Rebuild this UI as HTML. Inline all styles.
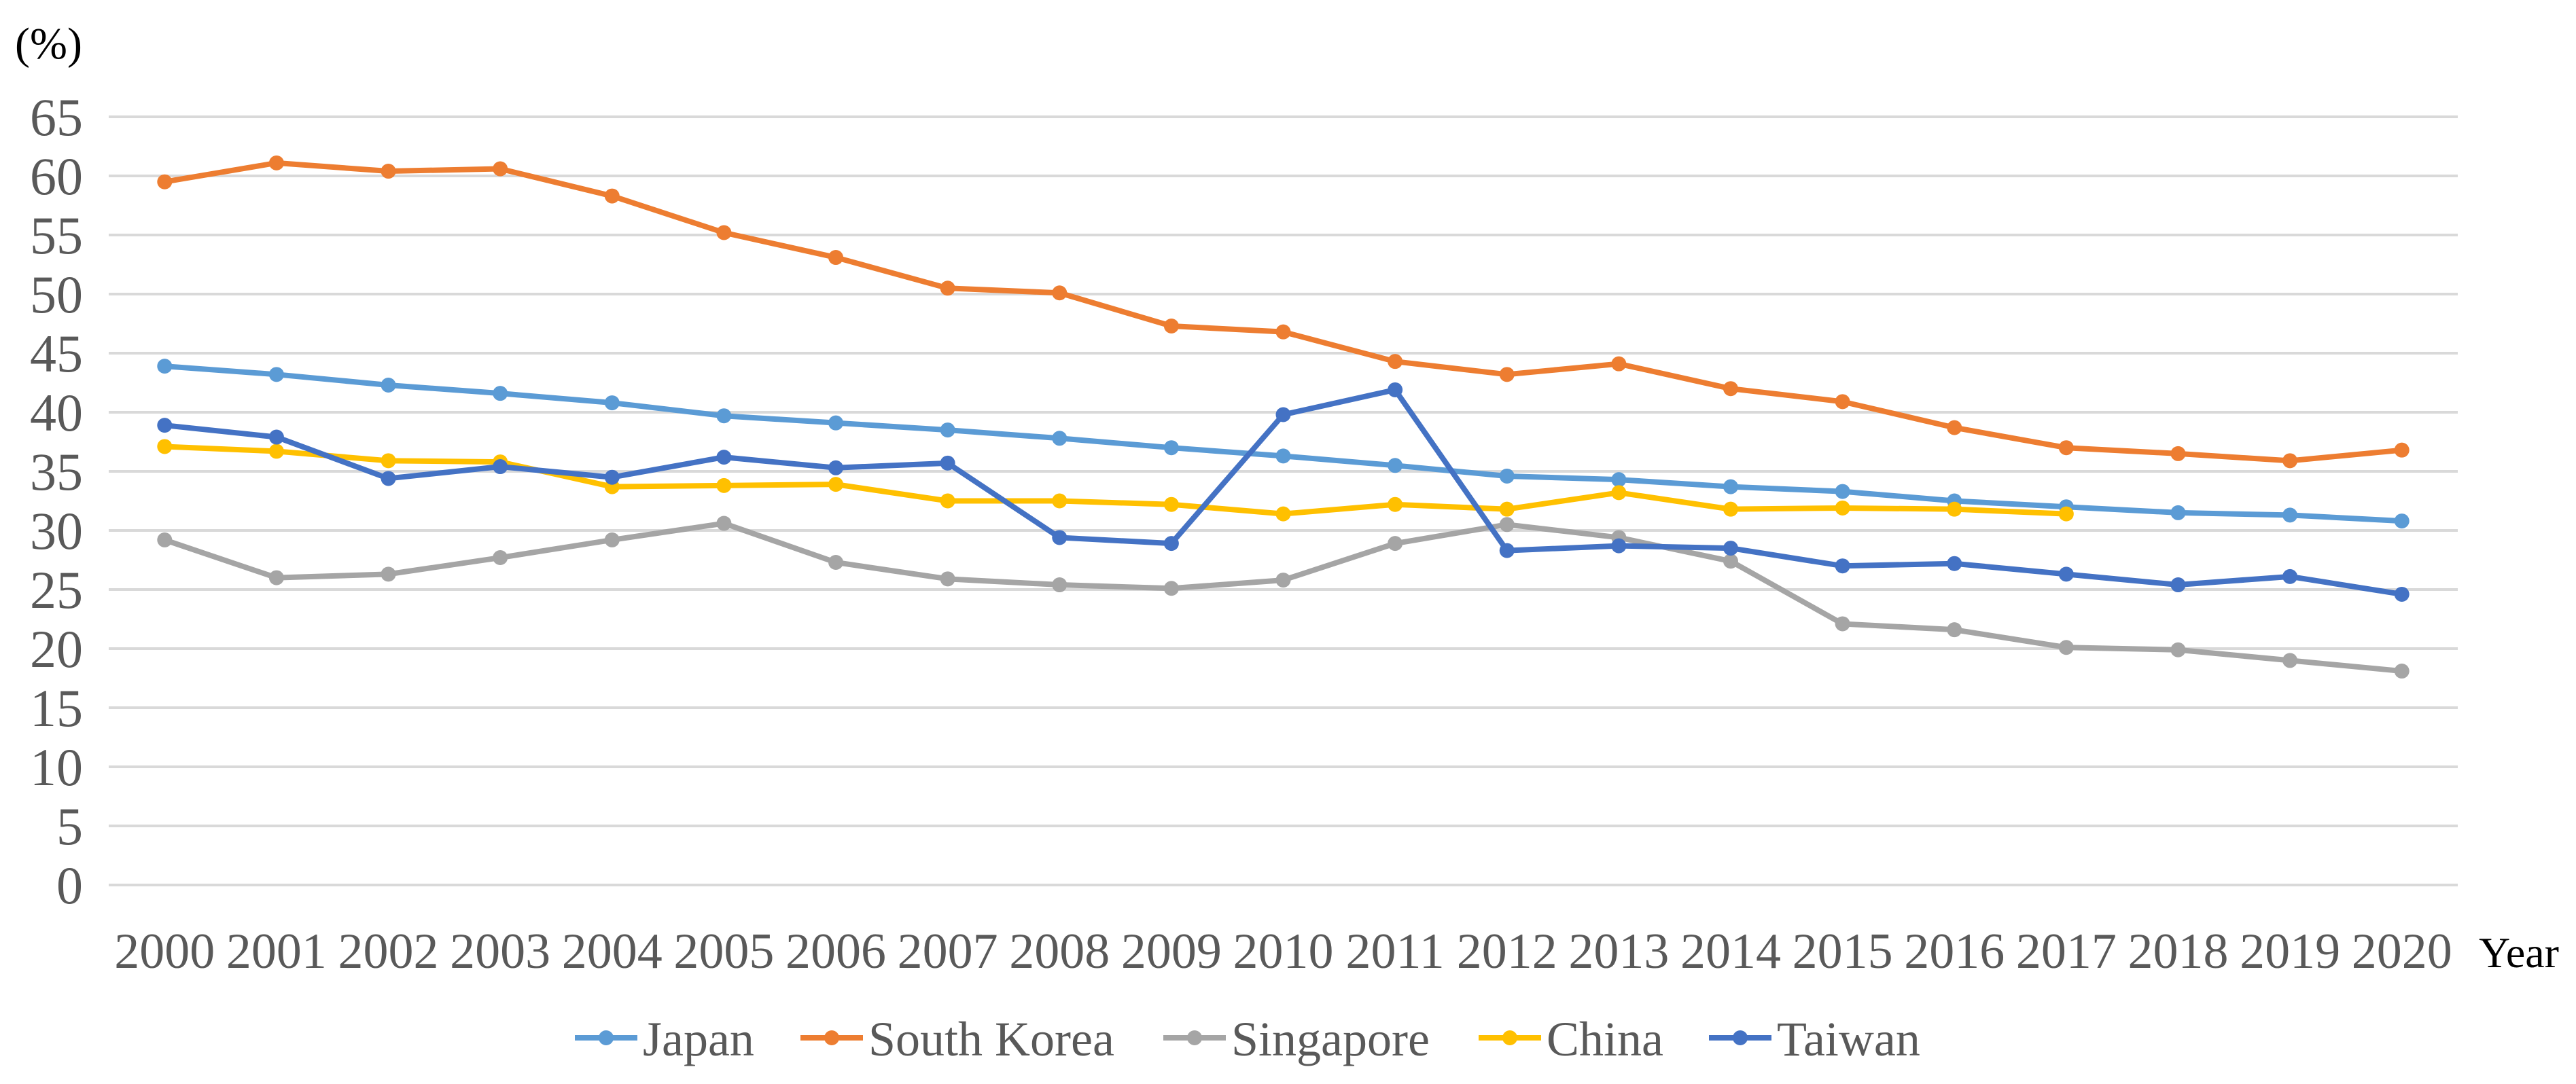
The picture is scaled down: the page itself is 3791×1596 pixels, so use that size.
<!DOCTYPE html>
<html><head><meta charset="utf-8"><style>
html,body{margin:0;padding:0;background:#fff;}
svg{display:block;font-family:"Liberation Serif",serif;}
</style></head><body>
<svg id="chart" width="3791" height="1596" xmlns="http://www.w3.org/2000/svg">
<text x="22" y="86" font-size="66" fill="#000">(%)</text>
<g id="grid"></g><g id="yticks"></g><g id="xticks"></g><g id="series"></g><g id="legend"></g>
<text x="3648" y="1424" font-size="64" fill="#000">Year</text>
</svg>
<script>
const years=["2000","2001","2002","2003","2004","2005","2006","2007","2008","2009","2010","2011","2012","2013","2014","2015","2016","2017","2018","2019","2020"];
const yTicks=[0,5,10,15,20,25,30,35,40,45,50,55,60,65];
const seriesNames=["Japan","South Korea","Singapore","China","Taiwan"];
const seriesColors=["#5B9BD5","#ED7D31","#A5A5A5","#FFC000","#4472C4"];
const japan=[43.9,43.2,42.3,41.6,40.8,39.7,39.1,38.5,37.8,37.0,36.3,35.5,34.6,34.3,33.7,33.3,32.5,32.0,31.5,31.3,30.8];
const southKorea=[59.5,61.1,60.4,60.6,58.3,55.2,53.1,50.5,50.1,47.3,46.8,44.3,43.2,44.1,42.0,40.9,38.7,37.0,36.5,35.9,36.8];
const singapore=[29.2,26.0,26.3,27.7,29.2,30.6,27.3,25.9,25.4,25.1,25.8,28.9,30.5,29.4,27.4,22.1,21.6,20.1,19.9,19.0,18.1];
const china=[37.1,36.7,35.9,35.8,33.7,33.8,33.9,32.5,32.5,32.2,31.4,32.2,31.8,33.2,31.8,31.9,31.8,31.4];
const taiwan=[38.9,37.9,34.4,35.4,34.5,36.2,35.3,35.7,29.4,28.9,39.8,41.9,28.3,28.7,28.5,27.0,27.2,26.3,25.4,26.1,24.6];
const allSeries=[japan,southKorea,singapore,china,taiwan];

const NS="http://www.w3.org/2000/svg";
const left=160,right=3617,y0=1303,y65=172;
const step=(right-left)/years.length;
const xs=i=>left+step*(i+0.5);
const ys=v=>y0-(v/65)*(y0-y65);
function mk(tag,attrs,parent){const e=document.createElementNS(NS,tag);for(const k in attrs)e.setAttribute(k,attrs[k]);parent.appendChild(e);return e;}
const grid=document.getElementById('grid'),yt=document.getElementById('yticks'),xt=document.getElementById('xticks'),sg=document.getElementById('series'),lg=document.getElementById('legend');
yTicks.forEach(t=>{
  const l=mk('line',{x1:left,x2:right,y1:ys(t),y2:ys(t),stroke:'#d9d9d9','stroke-width':4},grid);
  
  
  const tx=mk('text',{x:122,y:ys(t)+27,'font-size':78,fill:'#595959','text-anchor':'end'},yt);
  tx.textContent=t;
  
  
});
years.forEach((y,i)=>{
  const tx=mk('text',{x:xs(i),y:1425,'font-size':74,fill:'#595959','text-anchor':'middle'},xt);
  tx.textContent=y;
  
  
});
allSeries.forEach((d,si)=>{
  const g=mk('g',{},sg);
  
  
  const pts=d.map((v,i)=>xs(i)+','+ys(v)).join(' ');
  const pl=mk('polyline',{points:pts,fill:'none',stroke:seriesColors[si],'stroke-width':8,'stroke-linejoin':'round'},g);
  
  
  d.forEach((v,i)=>{
    const c=mk('circle',{cx:xs(i),cy:ys(v),r:11,fill:seriesColors[si]},g);
    
    
  });
});
const legendX=[846,1178,1712,2176,2515];
seriesNames.forEach((n,i)=>{
  const g=mk('g',{},lg);
  
  
  const x=legendX[i],y=1528;
  mk('line',{x1:x,x2:x+92,y1:y,y2:y,stroke:seriesColors[i],'stroke-width':8},g);
  mk('circle',{cx:x+46,cy:y,r:11,fill:seriesColors[i]},g);
  const t=mk('text',{x:x+100,y:y+26,'font-size':72,fill:'#595959'},g);
  t.textContent=n;
});
</script>
</body></html>
